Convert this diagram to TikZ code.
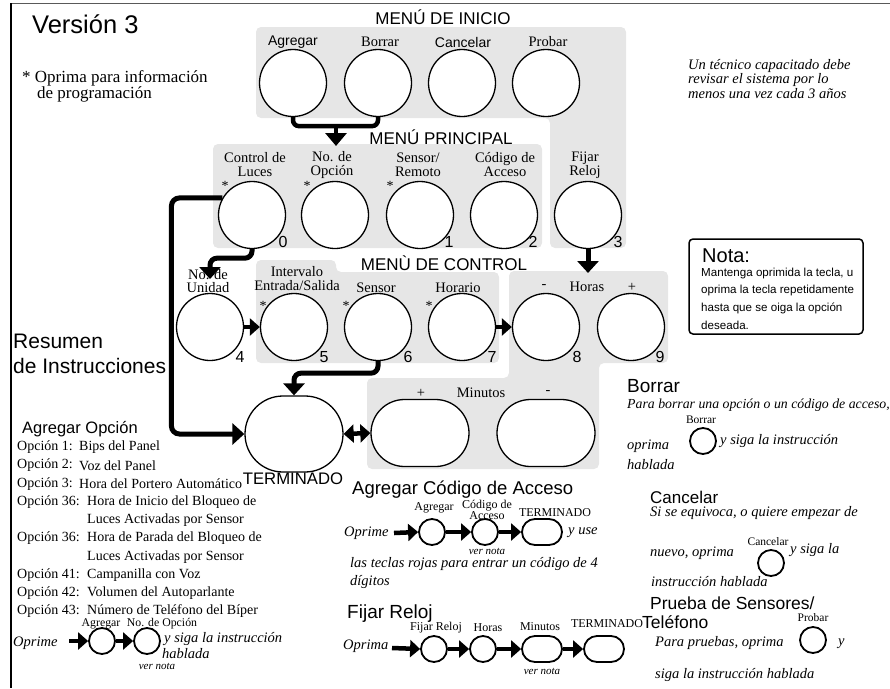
\documentclass[tikz,border=0pt]{standalone}
\usepackage{fontspec}
\setmainfont{Liberation Serif}
\setsansfont{Liberation Sans}
\usetikzlibrary{arrows.meta,shapes.misc}
\definecolor{panelgray}{RGB}{230,230,230}
\tikzset{
  panel/.style={fill=panelgray, rounded corners=5pt},
  bkey/.style={circle, draw, line width=1.3pt, fill=white, minimum size=67pt, inner sep=0pt},
  bpill/.style={rounded rectangle, draw, line width=1.3pt, fill=white, minimum width=98pt, minimum height=#1, inner sep=0pt},
  skey/.style={circle, draw, line width=1.8pt, fill=white, minimum size=26pt, inner sep=0pt},
  spill/.style={rounded rectangle, draw, line width=1.8pt, fill=white, minimum width=40pt, minimum height=26pt, inner sep=0pt},
  lbl/.style={font=\fontsize{14.5}{14}\selectfont, align=center, inner sep=0pt},
  slbl/.style={font=\fontsize{12}{10}\selectfont, align=center, inner sep=0pt},
  num/.style={font=\sffamily\fontsize{16}{16}\selectfont, inner sep=0pt},
  ast/.style={font=\fontsize{14}{14}\selectfont, inner sep=0pt},
  mhead/.style={font=\sffamily\fontsize{17}{17}\selectfont, inner sep=0pt},
  conn/.style={line width=5pt, -{Triangle[width=21pt,length=12pt]}},
  sarr/.style={line width=4.5pt, -{Triangle[width=17pt,length=10pt]}},
  itx/.style={font=\itshape\fontsize{14.5}{14}\selectfont, anchor=west, inner sep=0pt},
  opt/.style={font=\fontsize{14}{14}\selectfont, anchor=west, inner sep=0pt},
  note/.style={font=\itshape\fontsize{11}{11}\selectfont, inner sep=0pt},
  sechead/.style={font=\sffamily\fontsize{#1}{#1}\selectfont, anchor=base west, inner sep=0pt},
  notetxt/.style={font=\sffamily\fontsize{11.6}{11.6}\selectfont, anchor=west, inner sep=0pt}
}
\begin{document}
\begin{tikzpicture}[x=1pt,y=-1pt]
\useasboundingbox (0,0) rectangle (890,688);

% frame
\draw[black!65, line width=1pt] (11,3) -- (890,3);
\draw[black, line width=1.2pt] (11,3) -- (11,688);

% panels
\fill[panel] (256,27) -- (626,27) -- (626,248) -- (550,248) -- (550,118) -- (256,118) -- cycle;
\fill[panel] (213,144) rectangle (542,248);
\fill[panel] (256,260) -- (336,260) -- (336,272) -- (499,272) -- (499,363) -- (256,363) -- cycle;
\fill[panel] (509,271) -- (668,271) -- (668,363) -- (599,363) -- (599,469) -- (367,469) -- (367,378) -- (509,378) -- cycle;

% headings
\node[font=\sffamily\fontsize{25.5}{25.5}\selectfont, anchor=base west, inner sep=0pt] (ver) at (32,33) {Versión 3};
\node[font=\fontsize{17}{17}\selectfont, anchor=base west, inner sep=0pt] (prog1) at (22,82) {* Oprima para información};
\node[font=\fontsize{17}{17}\selectfont, anchor=base west, inner sep=0pt] (prog2) at (37,98) {de programación};
\node[mhead] (tinicio) at (443,17) {MENÚ DE INICIO};
\node[mhead] (tprinc) at (441,137) {MENÚ PRINCIPAL};
\node[mhead] (tcontrol) at (444,263) {MENÙ DE CONTROL};

% top row
\node[font=\sffamily\fontsize{14}{14}\selectfont, inner sep=0pt] (la1) at (293,42) {Agregar};
\node[lbl] (la2) at (380,42) {Borrar};
\node[font=\sffamily\fontsize{14}{14}\selectfont, inner sep=0pt] (la3) at (463,42) {Cancelar};
\node[lbl] (la4) at (548,42) {Probar};
\node[bkey] (a1) at (293,83) {};
\node[bkey] (a2) at (378,83) {};
\node[bkey] (a3) at (462,83) {};
\node[bkey] (a4) at (546,83) {};

% principal row
\node[lbl] (llu) at (255,165) {Control de\\Luces};
\node[lbl] (lop) at (332,165) {No. de\\Opción};
\node[lbl] (lse) at (418,165) {Sensor/\\Remoto};
\node[lbl] (lco) at (505,165) {Código de\\Acceso};
\node[lbl] (lfr) at (585,165) {Fijar\\Reloj};
\node[bkey] (lu) at (252,215) {};
\node[bkey] (op) at (335,215) {};
\node[bkey] (se) at (420,215) {};
\node[bkey] (co) at (504,215) {};
\node[bkey] (fr) at (588,215) {};
\node[ast] (s1) at (225,186) {*};
\node[ast] (s2) at (307,186) {*};
\node[ast] (s3) at (390,186) {*};
\node[num] (n0) at (283,242) {0};
\node[num] (n1) at (449,242) {1};
\node[num] (n2) at (533,242) {2};
\node[num] (n3) at (618,242) {3};

% control row
\node[lbl, font=\fontsize{14.5}{12.5}\selectfont] (lun) at (208,281) {No. de\\Unidad};
\node[lbl] (lin) at (297,279) {Intervalo\\Entrada/Salida};
\node[lbl] (lsn) at (376,288) {Sensor};
\node[lbl] (lho) at (458,288) {Horario};
\node[lbl] (lmi) at (544,287) {-};
\node[lbl] (lhr) at (587,287) {Horas};
\node[lbl] (lpl) at (632,287) {+};
\node[bkey] (un) at (210,327) {};
\node[bkey] (iv) at (294,327) {};
\node[bkey] (sn) at (378,327) {};
\node[bkey] (ho) at (462,327) {};
\node[bkey] (hm) at (546,327) {};
\node[bkey] (hp) at (631,327) {};
\node[ast] (s4) at (263,306) {*};
\node[ast] (s5) at (346,306) {*};
\node[ast] (s6) at (429,306) {*};
\node[num] (n4) at (240,357) {4};
\node[num] (n5) at (324,357) {5};
\node[num] (n6) at (408,357) {6};
\node[num] (n7) at (492,357) {7};
\node[num] (n8) at (577,357) {8};
\node[num] (n9) at (660,357) {9};

% minutos row
\node[lbl] (lmp) at (421,393) {+};
\node[lbl] (lmn) at (481,393) {Minutos};
\node[lbl] (lmm) at (548,393) {-};
\node[bpill=76pt] (ter) at (294,434) {};
\node[bpill=67pt] (mp) at (420,433) {};
\node[bpill=67pt] (mm) at (546,433) {};
\node[font=\sffamily\fontsize{16.7}{16.7}\selectfont, anchor=base, inner sep=0pt] (tter) at (293,484) {TERMINADO};

% connectors
\draw[line width=4.5pt, rounded corners=6pt] (a1.south) -- ++(0,9) -| (a2.south);
\coordinate (brk) at (336,124);
\coordinate (brkend) at (336,146);
\draw[line width=4.5pt, -{Triangle[width=21pt,length=13pt]}] (brk) -- (brkend);
\draw[conn, rounded corners=8pt] (lu.150) -- ++(-51,0) |- (ter.west);
\coordinate (untip) at (210,279);
\draw[conn, rounded corners=7pt] (lu.south) -- ++(0,9) -| (untip);
\draw[conn, rounded corners=7pt] (sn.south) -- ++(0,12) -| (ter.north);
\coordinate (hrtip) at (588,273);
\draw[conn] (fr.south) -- (hrtip);
\draw[sarr] (un.east) -- (iv.west);
\draw[sarr] (ho.east) -- (hm.west);
\draw[line width=4.5pt, {Triangle[width=18pt,length=10pt]}-{Triangle[width=18pt,length=10pt]}] (ter.east) -- (mp.west);

% Un tecnico
\node[itx] (tec1) at (688,66) {Un técnico capacitado debe};
\node[itx] (tec2) at (688,80) {revisar el sistema por lo};
\node[itx] (tec3) at (688,94) {menos una vez cada 3 años};

% Nota
\draw[line width=1.5pt, rounded corners=4pt] (689,239) rectangle (863,334);
\node[sechead=20] (nota) at (702,262) {Nota:};
\node[notetxt] (nt1) at (701,273) {Mantenga oprimida la tecla, u};
\node[notetxt] (nt2) at (701,290.5) {oprima la tecla repetidamente};
\node[notetxt] (nt3) at (701,308) {hasta que se oiga la opción};
\node[notetxt] (nt4) at (701,325) {deseada.};

% Resumen
\node[sechead=21] (res1) at (13,348) {Resumen};
\node[sechead=21] (res2) at (13,373) {de Instrucciones};

% Agregar Opcion
\node[sechead=16.5] (agop) at (22,433) {Agregar Opción};
\node[opt] (o1) at (17,447) {Opción 1:};
\node[opt] (o1d) at (79,447) {Bips del Panel};
\node[opt] (o2) at (17,465.5) {Opción 2:};
\node[opt] (o2d) at (79,465.5) {Voz del Panel};
\node[opt] (o3) at (17,484) {Opción 3:};
\node[opt] (o3d) at (79,484) {Hora del Portero Automático};
\node[opt] (o4) at (17,502) {Opción 36:};
\node[opt] (o4d) at (87,502) {Hora de Inicio del Bloqueo de};
\node[opt] (o4e) at (87,520) {Luces Activadas por Sensor};
\node[opt] (o5) at (17,538.5) {Opción 36:};
\node[opt] (o5d) at (87,538.5) {Hora de Parada del Bloqueo de};
\node[opt] (o5e) at (87,557) {Luces Activadas por Sensor};
\node[opt] (o6) at (17,575) {Opción 41:};
\node[opt] (o6d) at (87,575) {Campanilla con Voz};
\node[opt] (o7) at (17,593.5) {Opción 42:};
\node[opt] (o7d) at (87,593.5) {Volumen del Autoparlante};
\node[opt] (o8) at (17,611) {Opción 43:};
\node[opt] (o8d) at (87,611) {Número de Teléfono del Bíper};

\node[slbl, font=\fontsize{11.8}{10}\selectfont] (ag1l) at (101,624) {Agregar};
\node[slbl, font=\fontsize{11.8}{10}\selectfont] (ag2l) at (162,624) {No. de Opción};
\node[itx] (agopr) at (13,643) {Oprime};
\coordinate (ag0) at (69,641);
\node[skey] (ag1) at (102,641) {};
\node[skey] (ag2) at (147,641) {};
\draw[sarr] (ag0) -- (ag1.west);
\draw[sarr] (ag1.east) -- (ag2.west);
\node[itx] (agsi) at (164,639) {y siga la instrucción};
\node[itx] (agha) at (162,654) {hablada};
\node[note] (agvn) at (157,666) {ver nota};

% Agregar Codigo de Acceso
\node[sechead=18.5] (acc) at (352,494) {Agregar Código de Acceso};
\node[slbl] (ac1l) at (434,508) {Agregar};
\node[slbl] (ac2l) at (487,510) {Código de\\Acceso};
\node[slbl] (ac3l) at (555,513) {TERMINADO};
\node[itx] (acopr) at (344,533) {Oprime};
\coordinate (ac0) at (394,533);
\node[skey] (ac1) at (432,532) {};
\node[skey] (ac2) at (485,532) {};
\node[spill] (ac3) at (542,532) {};
\draw[sarr] (ac0) -- (ac1.west);
\draw[sarr] (ac1.east) -- (ac2.west);
\draw[sarr] (ac2.east) -- (ac3.west);
\node[itx] (acuse) at (568,533) {y use};
\node[note] (acvn) at (487,551) {ver nota};
\node[itx] (acl1) at (350,564) {las teclas rojas para entrar un código de 4};
\node[itx] (acl2) at (350,582) {dígitos};

% Fijar Reloj
\node[sechead=19] (fjr) at (347,618) {Fijar Reloj};
\node[slbl] (fj1l) at (436,628) {Fijar Reloj};
\node[slbl] (fj2l) at (488,628) {Horas};
\node[slbl] (fj3l) at (540,627) {Minutos};
\node[slbl] (fj4l) at (607,624) {TERMINADO};
\node[itx] (fjopr) at (343,646) {Oprima};
\coordinate (fj0) at (392,648);
\node[skey] (fj1) at (434,649) {};
\node[skey] (fj2) at (483,649) {};
\node[spill] (fj3) at (542,649) {};
\node[spill] (fj4) at (604,649) {};
\draw[sarr] (fj0) -- (fj1.west);
\draw[sarr] (fj1.east) -- (fj2.west);
\draw[sarr] (fj2.east) -- (fj3.west);
\draw[sarr] (fj3.east) -- (fj4.west);
\node[note] (fjvn) at (542,671) {ver nota};

% Borrar
\node[sechead=19] (bor) at (627,392) {Borrar};
\node[itx, font=\itshape\fontsize{13.8}{14}\selectfont] (bo1) at (627,405) {Para borrar una opción o un código de acceso,};
\node[slbl, font=\fontsize{11.5}{11.5}\selectfont] (bolb) at (701,420) {Borrar};
\node[skey] (bok) at (703,441) {};
\node[itx] (bo2) at (627,446) {oprima};
\node[itx] (bo3) at (720,441) {y siga la instrucción};
\node[itx] (bo4) at (627,465) {hablada};

% Cancelar
\node[sechead=17] (can) at (650,503) {Cancelar};
\node[itx] (ca1) at (650,513) {Si se equivoca, o quiere empezar de};
\node[itx] (ca2) at (650,553) {nuevo, oprima};
\node[slbl, font=\fontsize{11.5}{11.5}\selectfont] (calb) at (768,542) {Cancelar};
\node[skey] (cak) at (771,563) {};
\node[itx] (ca3) at (790,550) {y siga la};
\node[itx] (ca4) at (651,582) {instrucción hablada};

% Prueba
\node[sechead=17.5] (pr1) at (650,609) {Prueba de Sensores/};
\node[sechead=17.5] (pr2) at (642,628) {Teléfono};
\node[slbl, font=\fontsize{11.5}{11.5}\selectfont] (prlb) at (813,618) {Probar};
\node[skey] (prk) at (813,640) {};
\node[itx] (pr3) at (655,643) {Para pruebas, oprima};
\node[itx] (pr4) at (838,644) {y};
\node[itx] (pr5) at (655,675) {siga la instrucción hablada};
\end{tikzpicture}
\end{document}
